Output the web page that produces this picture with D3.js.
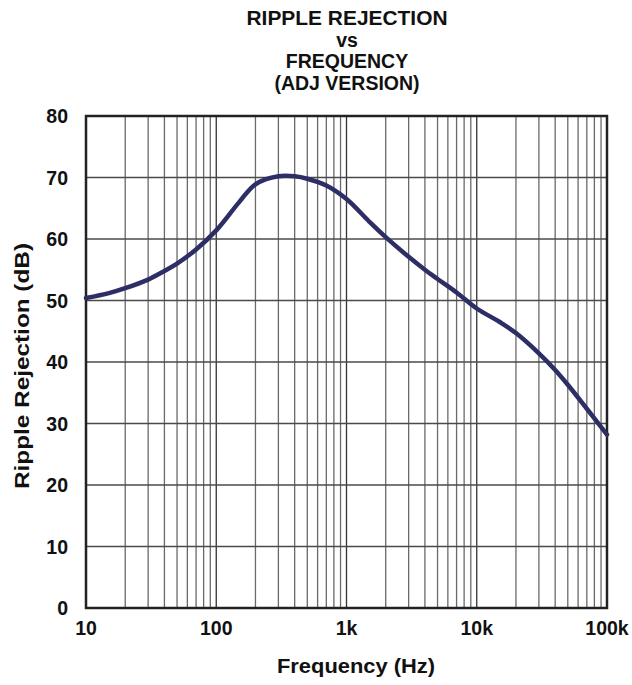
<!DOCTYPE html>
<html><head><meta charset="utf-8">
<script src="https://cdn.jsdelivr.net/npm/d3@7"></script>
<style>body{margin:0;background:#fff}svg{display:block}text{font-family:"Liberation Sans",Arial,sans-serif;font-weight:bold;fill:#111}</style>
</head><body>
<script>
const titleLines = ["RIPPLE REJECTION", "vs", "FREQUENCY", "(ADJ VERSION)"];
const xTickValues = [10, 100, 1000, 10000, 100000];
const xTickLabels = ["10", "100", "1k", "10k", "100k"];
const yTickValues = [0, 10, 20, 30, 40, 50, 60, 70, 80];
const freqHz = [10, 15, 20, 30, 40, 50, 70, 100, 150, 200, 300, 400, 500, 700, 1000, 1500, 2000, 3000, 4000, 5000, 7000, 10000, 15000, 20000, 30000, 40000, 50000, 70000, 100000];
const rejectionDb = [50.4, 51.2, 52.0, 53.4, 54.8, 56.0, 58.3, 61.4, 66.0, 68.9, 70.2, 70.2, 69.8, 68.7, 66.5, 62.8, 60.3, 57.1, 55.0, 53.5, 51.3, 48.7, 46.5, 44.7, 41.4, 38.7, 36.3, 32.4, 28.2];
const xLabel = "Frequency (Hz)";
const yLabel = "Ripple Rejection (dB)";

const W = 632, H = 685;
const m = {left: 86, right: 25, top: 116, bottom: 77};
const svg = d3.select("body").append("svg").attr("width", W).attr("height", H);
const x = d3.scaleLog().domain([10, 100000]).range([m.left, W - m.right]);
const y = d3.scaleLinear().domain([0, 80]).range([H - m.bottom, m.top]);

// minor vertical grid
const minor = [];
for (let d = 10; d < 100000; d *= 10) for (let k = 2; k <= 9; k++) minor.push(d * k);
const g = svg.append("g");
g.selectAll(".vmin").data(minor).enter().append("line")
  .attr("x1", d => x(d)).attr("x2", d => x(d)).attr("y1", y(0)).attr("y2", y(80))
  .attr("stroke", "#6a6a6a").attr("stroke-width", 1.3);
g.selectAll(".vmaj").data(xTickValues).enter().append("line")
  .attr("x1", d => x(d)).attr("x2", d => x(d)).attr("y1", y(0)).attr("y2", y(80))
  .attr("stroke", "#333").attr("stroke-width", 1.3);
g.selectAll(".h").data(yTickValues).enter().append("line")
  .attr("x1", x(10)).attr("x2", x(100000)).attr("y1", d => y(d)).attr("y2", d => y(d))
  .attr("stroke", "#4a4a4a").attr("stroke-width", 1.3);
// frame
svg.append("rect").attr("x", x(10)).attr("y", y(80)).attr("width", x(100000) - x(10)).attr("height", y(0) - y(80))
  .attr("fill", "none").attr("stroke", "#222").attr("stroke-width", 2.5);

// curve
const pts = freqHz.map((f, i) => [f, rejectionDb[i]]);
svg.append("path").datum(pts)
  .attr("d", d3.line().x(d => x(d[0])).y(d => y(d[1])).curve(d3.curveCatmullRom.alpha(0.5)))
  .attr("fill", "none").attr("stroke", "#2e2e66").attr("stroke-width", 4.5).attr("stroke-linecap", "round");

// axes labels
svg.selectAll(".xt").data(xTickValues).enter().append("text")
  .attr("x", d => x(d)).attr("y", 635).attr("text-anchor", "middle").attr("font-size", 19.5)
  .text((d, i) => xTickLabels[i]);
svg.selectAll(".yt").data(yTickValues).enter().append("text")
  .attr("x", 68).attr("y", d => y(d) + 7).attr("text-anchor", "end").attr("font-size", 19.5)
  .text(d => d);
svg.append("text").attr("x", 356).attr("y", 673).attr("text-anchor", "middle").attr("font-size", 20)
  .attr("textLength", 158).attr("lengthAdjust", "spacingAndGlyphs").text(xLabel);
svg.append("text").attr("transform", "translate(29,366) rotate(-90)").attr("text-anchor", "middle").attr("font-size", 20)
  .attr("textLength", 246).attr("lengthAdjust", "spacingAndGlyphs").text(yLabel);
// title
const titleBase = [25, 46.5, 68, 89.5];
svg.selectAll(".ti").data(titleLines).enter().append("text")
  .attr("x", 347).attr("y", (d, i) => titleBase[i]).attr("text-anchor", "middle").attr("font-size", 19.5)
  .attr("textLength", (d, i) => i === 0 ? 201 : null).attr("lengthAdjust", "spacingAndGlyphs")
  .text(d => d);
</script>
</body></html>
